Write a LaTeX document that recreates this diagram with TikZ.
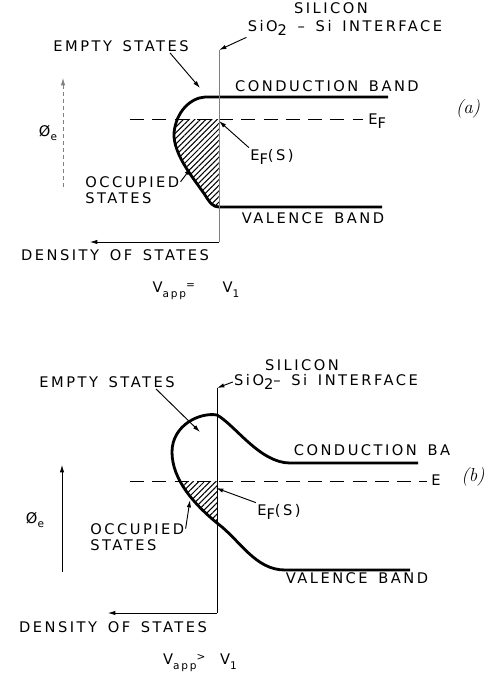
\documentclass[tikz,border=0pt]{standalone}
\usepackage{fontspec}
\newfontfamily\lettering[LetterSpace=17,WordSpace=1.5]{DejaVu Sans}
\usetikzlibrary{arrows.meta,patterns.meta}
\newcommand\lowsub[1]{\raisebox{-0.6ex}{#1}}
\tikzset{
  lbl/.style={font=\fontsize{12.5}{14}\lettering, inner sep=1pt, align=center},
  panellbl/.style={font=\fontsize{16}{19}\selectfont\itshape, inner sep=0pt},
  band/.style={line width=2.4pt, line join=round},
  leader/.style={-{Latex[length=2.2mm, width=1.3mm]}, line width=0.8pt},
  fermi/.style={line width=0.8pt, dash pattern=on 12pt off 7pt},
  iface/.style={line width=0.6pt},
  axisline/.style={-{Latex[length=2.2mm, width=1.3mm]}, line width=0.6pt},
  hatch/.style={pattern={Lines[angle=45, distance=3.4pt, line width=0.9pt]}}
}
\begin{document}
\begin{tikzpicture}[x=0.03cm, y=-0.03cm]
  \useasboundingbox (0,0) rectangle (489,686);

  % ---------- (a) V_app = V_1 ----------
  \begin{scope}
    \clip (150,119) rectangle (219,212);
    \fill[hatch] (219,97) -- (205,97) .. controls (190,98) and (176,112) .. (174,133)
      .. controls (173,155) and (195,180) .. (205,195)
      .. controls (210,203) and (213,207) .. (219,207) -- cycle;
  \end{scope}
  \draw[band] (388,97) -- (205,97) .. controls (190,98) and (176,112) .. (174,133)
    .. controls (173,155) and (195,180) .. (205,195)
    .. controls (210,203) and (213,207) .. (219,207) -- (382,207);
  \draw[fermi] (130,119) -- (363,119);

  \coordinate (ifA) at (219,50);
  \coordinate (dosoA) at (219,242);
  \coordinate (dosendA) at (90,242);
  \draw[iface, gray] (ifA) -- (dosoA);
  \draw[axisline] (dosoA) -- (dosendA);
  \coordinate (phibotA) at (63,187);
  \coordinate (phitopA) at (63,78);
  \draw[axisline, gray, dashed] (phibotA) -- (phitopA);

  \node[lbl] (silA) at (331,8) {SILICON};
  \node[lbl] (ifaceA) at (345,28) {SiO\lowsub{2} – Si INTERFACE};
  \node[lbl] (emptyA) at (121,46) {EMPTY STATES};
  \node[lbl] (cbA) at (327,86) {CONDUCTION BAND};
  \node[lbl, anchor=base west] (efA) at (367,124) {E\lowsub{F}};
  \node[panellbl] (tagA) at (468,109) {(a)};
  \node[lbl] (efsA) at (272,157) {E\lowsub{F}(S)};
  \node[lbl, align=left, anchor=north west] (ocA) at (84,175) {OCCUPIED\\STATES};
  \node[lbl] (vbA) at (313,218) {VALENCE BAND};
  \node[lbl] (dosA) at (115,255) {DENSITY OF STATES};
  \node[lbl] (vappA) at (196,291) {V\lowsub{\small app}\raisebox{0.5ex}{\small =}\quad\, V\lowsub{\small 1}};
  \node[lbl] (phiA) at (48,133) {Ø\lowsub{\small e}};

  \coordinate (esA) at (200,88);
  \coordinate (efsptA) at (219,121);
  \coordinate (ocptA) at (191,168);
  \draw[leader] (ifaceA.south west) -- (ifA);
  \draw[leader] ([xshift=-0.6cm]emptyA.south east) -- (esA);
  \draw[leader] (efsA.north west) -- (efsptA);
  \draw[leader] ([yshift=-0.2cm]ocA.north east) -- (ocptA);

  % ---------- (b) V_app > V_1 ----------
  \begin{scope}
    \clip (150,481) rectangle (217,530);
    \fill[hatch] (217,415) .. controls (200,412) and (172,425) .. (172,452)
      .. controls (172,480) and (195,505) .. (217,523) -- cycle;
  \end{scope}
  \draw[band] (418,463) -- (290,463) .. controls (260,463) and (235,425) .. (217,415)
    .. controls (200,412) and (172,425) .. (172,452)
    .. controls (172,480) and (195,505) .. (217,523)
    .. controls (240,540) and (255,570) .. (285,570) -- (410,570);
  \draw[fermi] (130,481) -- (427,481);

  \coordinate (ifB) at (217,388);
  \coordinate (dosoB) at (217,613);
  \coordinate (dosendB) at (108,613);
  \draw[iface] (ifB) -- (dosoB);
  \draw[axisline] (dosoB) -- (dosendB);
  \coordinate (phibotB) at (62,572);
  \coordinate (phitopB) at (62,465);
  \draw[axisline] (phibotB) -- (phitopB);

  \node[lbl] (silB) at (302,365) {SILICON};
  \node[lbl] (ifaceB) at (326,382) {SiO\lowsub{2}– Si INTERFACE};
  \node[lbl] (emptyB) at (107,382) {EMPTY STATES};
  \node[lbl] (cbB) at (372,450) {CONDUCTION BA};
  \node[lbl, anchor=base west] (efB) at (430,485) {E};
  \node[panellbl] (tagB) at (473,477) {(b)};
  \node[lbl] (efsB) at (279,512) {E\lowsub{F}(S)};
  \node[lbl, align=left, anchor=north west] (ocB) at (89,522) {OCCUPIED\\STATES};
  \node[lbl] (vbB) at (357,578) {VALENCE BAND};
  \node[lbl] (dosB) at (113,627) {DENSITY OF STATES};
  \node[lbl] (vappB) at (200,663) {V\lowsub{\small app}\raisebox{0.5ex}{\small >}\quad V\lowsub{\small 1}};
  \node[lbl] (phiB) at (35,520) {Ø\lowsub{\small e}};

  \coordinate (esB) at (200,432);
  \coordinate (efsptB) at (216,488);
  \coordinate (ocptB) at (190,500);
  \draw[leader] (ifaceB.west) -- (ifB);
  \draw[leader] ([xshift=-0.6cm]emptyB.south east) -- (esB);
  \draw[leader] (efsB.north west) -- (efsptB);
  \draw[leader] ([yshift=-0.2cm]ocB.north east) -- (ocptB);
\end{tikzpicture}
\end{document}
